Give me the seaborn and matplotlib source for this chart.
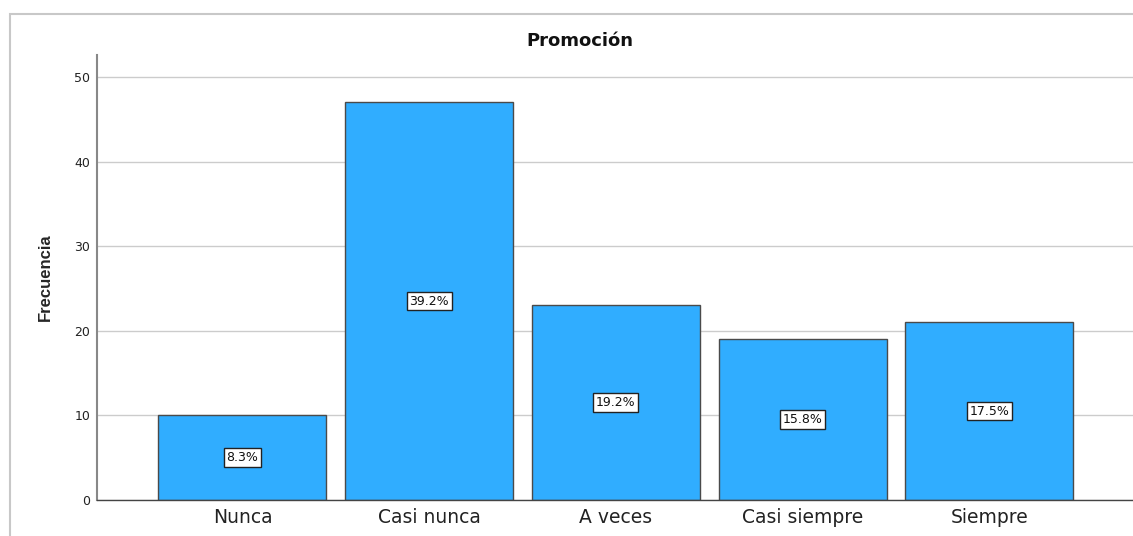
import matplotlib
matplotlib.use("Agg")
import matplotlib.pyplot as plt
from matplotlib.patches import Rectangle
import seaborn as sns
import pandas as pd

categories = ["Nunca", "Casi nunca", "A veces", "Casi siempre", "Siempre"]
frequencies = [10, 47, 23, 19, 21]
percent_labels = ["8.3%", "39.2%", "19.2%", "15.8%", "17.5%"]
y_ticks = [0, 10, 20, 30, 40, 50]

df = pd.DataFrame({"categoria": categories, "frecuencia": frequencies})

sns.set_theme(style="white")
plt.rcParams["font.family"] = ["DejaVu Sans"]

fig = plt.figure(figsize=(11.33, 5.36), dpi=100)
ax = fig.add_axes([97 / 1133, 1 - 500 / 536, 1 - 97 / 1133, (500 - 55) / 536])

ax.set_axisbelow(True)
ax.yaxis.grid(True, color="#cccccc", linewidth=1.0)

sns.barplot(data=df, x="categoria", y="frecuencia", order=categories,
            color="#30adff", saturation=1, edgecolor="#4a4a4a", linewidth=1.0,
            width=0.9, ax=ax)

for i, (v, lab) in enumerate(zip(frequencies, percent_labels)):
    ax.text(i, v / 2, lab, ha="center", va="center", fontsize=9, color="#111111",
            bbox=dict(boxstyle="square,pad=0.22", facecolor="white",
                      edgecolor="#222222", linewidth=1.0))

ax.set_xlim(-0.779, 4.77)
ax.set_ylim(0, 52.6)
ax.set_yticks(y_ticks)
ax.tick_params(axis="y", labelsize=9, length=0, pad=5, colors="#222222")
ax.tick_params(axis="x", labelsize=13.5, length=0, pad=6, colors="#222222")
ax.set_xlabel("")
ax.set_ylabel("Frecuencia", fontsize=12, fontweight="bold",
              family=["Liberation Sans Narrow", "Liberation Sans", "DejaVu Sans"])
ax.yaxis.set_label_coords(-0.0425, 0.5)

for side in ["top", "right"]:
    ax.spines[side].set_visible(False)
ax.spines["left"].set_color("#888888")
ax.spines["left"].set_linewidth(1.5)
ax.spines["bottom"].set_color("#444444")
ax.spines["bottom"].set_linewidth(1.0)

fig.text(580 / 1133, 1 - 41 / 536, "Promoción", ha="center", va="center",
         fontsize=13, fontweight="bold", color="#111111")

# outer chart frame
fig.patches.append(Rectangle((10 / 1133, -0.1), 1.2, 1 - 14 / 536 + 0.1,
                             transform=fig.transFigure, fill=False,
                             edgecolor="#c8c8c8", linewidth=1.5, zorder=0))

fig.savefig("out.png", dpi=100, facecolor="white")
